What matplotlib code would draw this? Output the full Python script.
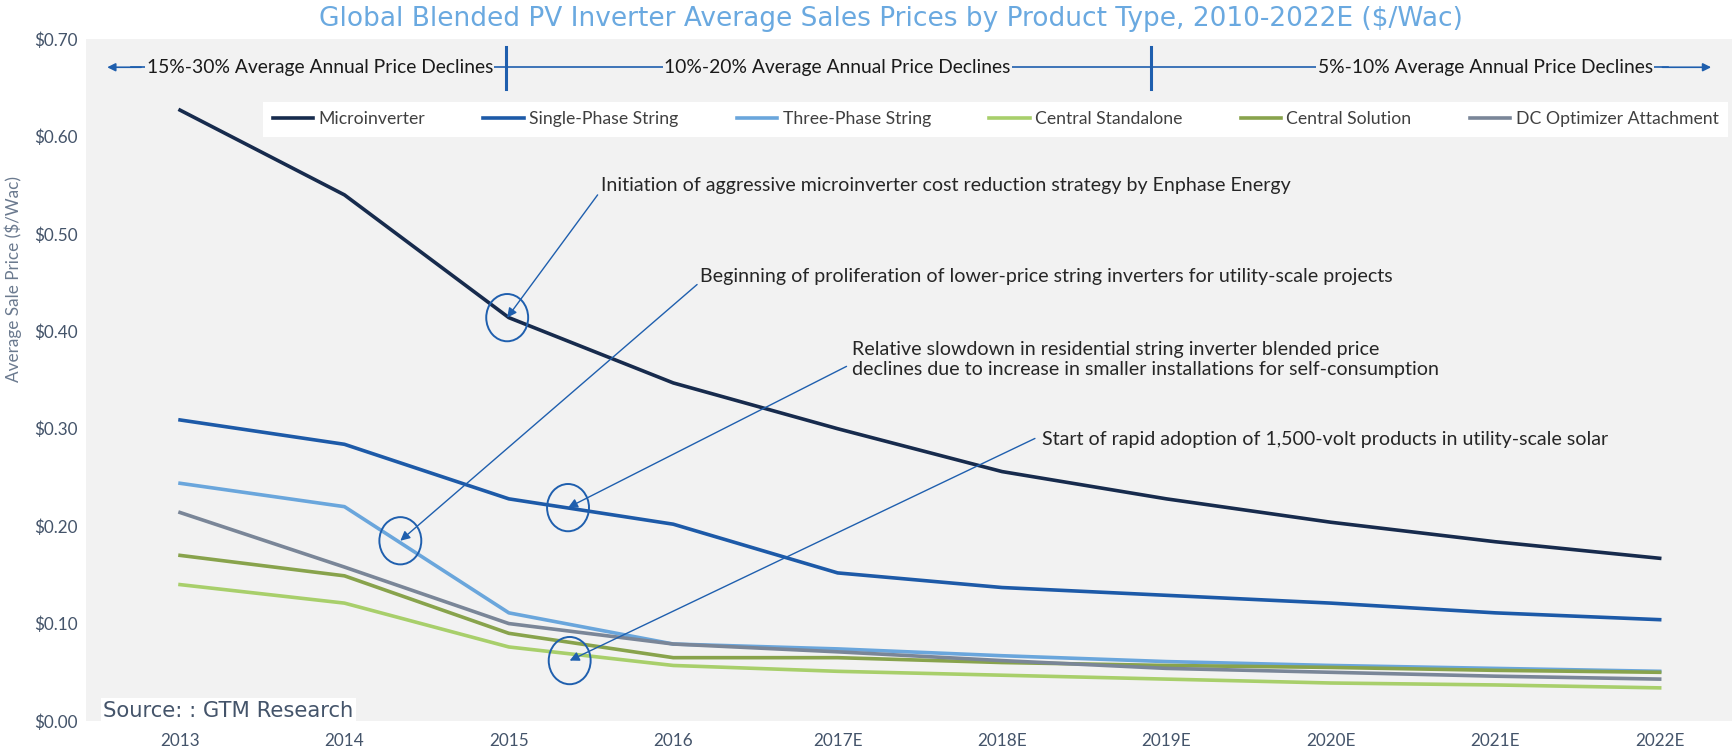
import matplotlib
matplotlib.use("Agg")
import matplotlib.pyplot as plt
from matplotlib.patches import Ellipse

years = ["2013", "2014", "2015", "2016", "2017E", "2018E", "2019E", "2020E", "2021E", "2022E"]

microinverter = [0.627, 0.540, 0.414, 0.347, 0.300, 0.256, 0.228, 0.204, 0.184, 0.167]
single_phase = [0.309, 0.284, 0.228, 0.202, 0.152, 0.137, 0.129, 0.121, 0.111, 0.104]
three_phase = [0.244, 0.220, 0.111, 0.079, 0.074, 0.067, 0.061, 0.057, 0.054, 0.051]
central_standalone = [0.140, 0.121, 0.076, 0.057, 0.051, 0.047, 0.043, 0.039, 0.037, 0.034]
central_solution = [0.170, 0.149, 0.090, 0.065, 0.065, 0.060, 0.057, 0.055, 0.052, 0.050]
dc_optimizer = [0.214, 0.158, 0.100, 0.079, 0.071, 0.062, 0.054, 0.050, 0.046, 0.043]

series_names = ["Microinverter", "Single-Phase String", "Three-Phase String",
                "Central Standalone", "Central Solution", "DC Optimizer Attachment"]
series_colors = ["#172b4d", "#1d5aa8", "#6aa6dc", "#a8cf6b", "#88a34c", "#7a8698"]

band_labels = ["15%-30% Average Annual Price Declines",
               "10%-20% Average Annual Price Declines",
               "5%-10% Average Annual Price Declines"]

notes = [
    "Initiation of aggressive microinverter cost reduction strategy by Enphase Energy",
    "Beginning of proliferation of lower-price string inverters for utility-scale projects",
    "Relative slowdown in residential string inverter blended price\ndeclines due to increase in smaller installations for self-consumption",
    "Start of rapid adoption of 1,500-volt products in utility-scale solar",
]
# (circle x, circle y, text x, text y, arrow start x, arrow start y)
note_pos = [
    (1.99, 0.414, 2.56, 0.550, 2.54, 0.540),
    (1.34, 0.185, 3.165, 0.456, 3.145, 0.448),
    (2.36, 0.219, 4.09, 0.371, 4.054, 0.364),
    (2.37, 0.062, 5.245, 0.289, 5.20, 0.290),
]

plt.rcParams["font.family"] = ["Lato", "DejaVu Sans"]
blue = "#1f5fae"
ink = "#44546a"

fig = plt.figure(figsize=(17.35, 7.54), dpi=100)
ax = fig.add_axes([86 / 1735, 33 / 754, 1646 / 1735, 682 / 754])
ax.set_facecolor("#f2f2f2")

x = list(range(len(years)))
all_series = [microinverter, single_phase, three_phase, central_standalone, central_solution, dc_optimizer]
for vals, name, col in zip(all_series, series_names, series_colors):
    ax.plot(x, vals, color=col, lw=2.6, label=name, solid_joinstyle="round")

ax.set_xlim(-0.572, 9.44)
ax.set_ylim(0, 0.70)
ax.set_xticks(x)
ax.set_xticklabels(years)
ax.set_yticks([i / 10 for i in range(8)])
ax.set_yticklabels(["\\$%.2f" % (i / 10) for i in range(8)])
ax.tick_params(length=0, labelsize=12.3, colors=ink)
ax.tick_params(axis="y", pad=6)
ax.tick_params(axis="x", pad=9)
for s in ax.spines.values():
    s.set_visible(False)
fig.text(0.0077, 0.63, "Average Sale Price (\\$/Wac)", rotation=90, ha="center", va="center",
         fontsize=12.3, color="#6b7a8f")

fig.text(0.5135, 0.975, "Global Blended PV Inverter Average Sales Prices by Product Type, 2010-2022E (\\$/Wac)",
         ha="center", va="center", fontsize=19, color="#6aa9e0", family="DejaVu Sans")

# band of price-decline periods across the top
band_y = 0.671
ax.plot([-0.30, 9.05], [band_y, band_y], color=blue, lw=1.2, zorder=3)
ax.annotate("", xy=(-0.46, band_y), xytext=(-0.22, band_y),
            arrowprops=dict(arrowstyle="-|>", color=blue, lw=1.2, mutation_scale=12), zorder=4)
ax.annotate("", xy=(9.33, band_y), xytext=(9.0, band_y),
            arrowprops=dict(arrowstyle="-|>", color=blue, lw=1.2, mutation_scale=12), zorder=4)
for bx in [1.98, 5.905]:
    ax.plot([bx, bx], [0.649, 0.692], color=blue, lw=2.2, zorder=4)
for lbl, cx in zip(band_labels, [0.85, 4.0, 7.94]):
    ax.text(cx, band_y, lbl, ha="center", va="center", fontsize=13.9, color="#1a1a1a", zorder=5,
            bbox=dict(facecolor="#f2f2f2", edgecolor="none", pad=1.0))

leg = ax.legend(loc="upper left", bbox_to_anchor=(0.1075, 0.908), ncol=6, frameon=True,
                fancybox=False, fontsize=12.7, handlelength=2.3, handletextpad=0.3,
                columnspacing=3.3, borderpad=0.55, borderaxespad=0)
leg.get_frame().set_facecolor("white")
leg.get_frame().set_edgecolor("none")
leg.get_frame().set_alpha(1)
for t in leg.get_texts():
    t.set_color("#404040")

for txt, (cx, cy, tx, ty, ax0, ay0) in zip(notes, note_pos):
    ax.add_patch(Ellipse((cx, cy), 0.255, 0.0485, facecolor="none", edgecolor=blue, lw=1.4, zorder=6))
    ax.annotate("", xy=(cx, cy), xytext=(ax0, ay0),
                arrowprops=dict(arrowstyle="-|>", color=blue, lw=1.0, mutation_scale=14,
                                shrinkA=0, shrinkB=0), zorder=6)
    ax.text(tx, ty, txt, ha="left", va="center", fontsize=14.1, color="#262626",
            linespacing=1.15, zorder=7)

ax.text(0.0105, 0.0, "Source: : GTM Research", transform=ax.transAxes, ha="left", va="bottom",
        fontsize=15.2, color="#44546a", zorder=7, family="DejaVu Sans",
        bbox=dict(facecolor="white", edgecolor="none", pad=2.0))

fig.savefig("out.png", dpi=100)
